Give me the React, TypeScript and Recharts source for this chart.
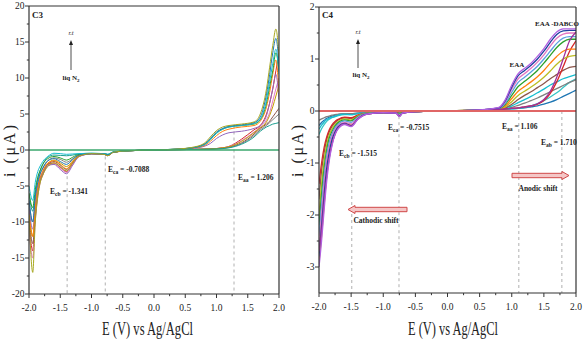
import React from 'react';
import { LineChart, Line, XAxis, YAxis, ReferenceLine } from 'recharts';

const FONT = '"Liberation Serif", "Times New Roman", Times, serif';

// ---------------- Panel C3 ----------------
const C3_E = [-2.0, -1.94, -1.9, -1.86, -1.82, -1.78, -1.7, -1.6, -1.5, -1.4, -1.3, -1.2, -1.0, -0.8, -0.74, -0.65, -0.4, 0.0,
  0.4, 0.6, 0.8, 0.9, 1.0, 1.1, 1.2, 1.4, 1.6, 1.7, 1.8, 1.85, 1.9, 1.95, 2.0];

const C3_A1 = [-9, -17, -10, -6.5, -4.5, -3.5, -2.3, -1.8, -2.3, -2.9, -1.8, -0.85, -0.5, -0.6, -0.8, -0.3, -0.1, 0,
  0.15, 0.35, 0.9, 1.8, 2.7, 3.2, 3.4, 3.6, 3.9, 5.0, 8.5, 11.5, 14.5, 16.8, 13.0];
const C3_A2 = [-7, -10, -6.5, -4.5, -3.2, -2.5, -1.5, -1.2, -1.6, -2.0, -1.3, -0.7, -0.5, -0.55, -0.7, -0.3, -0.1, 0,
  0.15, 0.3, 0.8, 1.6, 2.5, 3.0, 3.3, 3.5, 3.8, 4.6, 7.8, 10.5, 13.5, 15.5, 12.0];
const C3_A3 = [-5, -7, -4.5, -3.0, -2.2, -1.6, -0.9, -0.45, -0.5, -0.6, -0.55, -0.5, -0.45, -0.5, -0.6, -0.25, -0.1, 0,
  0.15, 0.3, 0.7, 1.4, 2.3, 2.9, 3.2, 3.4, 3.7, 4.3, 7.0, 9.5, 12.0, 14.0, 10.5];
const C3_A4 = [-9, -12, -8, -5.2, -3.8, -3.0, -1.8, -1.5, -2.0, -2.6, -1.6, -0.8, -0.5, -0.6, -0.75, -0.3, -0.1, 0,
  0.12, 0.25, 0.6, 1.2, 2.0, 2.6, 2.9, 3.2, 3.4, 4.0, 6.0, 8.0, 10.5, 12.5, 8.0];
const C3_A5 = [-8, -11, -8, -5.5, -4, -3.2, -2.2, -2.0, -2.7, -3.3, -2.1, -0.9, -0.55, -0.6, -0.8, -0.3, -0.1, 0,
  0.1, 0.2, 0.5, 0.9, 1.6, 2.1, 2.4, 2.6, 3.0, 3.4, 4.8, 6.5, 8.5, 10.5, 7.0];
const C3_A6 = [-6, -8, -5.5, -3.8, -2.8, -2.0, -1.2, -0.9, -1.1, -1.4, -1.0, -0.6, -0.5, -0.5, -0.65, -0.3, -0.1, 0,
  0.12, 0.28, 0.75, 1.5, 2.4, 2.9, 3.2, 3.4, 3.6, 4.2, 6.5, 8.8, 11.0, 13.5, 11.0];
const C3_B1 = [-10, -14, -9, -6, -4.2, -3.2, -2.0, -1.8, -2.4, -3.0, -1.9, -0.9, -0.5, -0.55, -0.7, -0.3, -0.1, 0,
  0.05, 0.08, 0.12, 0.15, 0.2, 0.3, 0.5, 1.5, 2.8, 3.4, 5.0, 6.5, 8.5, 11.0, 13.5];
const C3_B2 = [-6, -8.5, -6, -4, -2.8, -2.0, -1.0, -0.7, -0.75, -0.8, -0.7, -0.55, -0.45, -0.5, -0.6, -0.25, -0.1, 0,
  0.05, 0.08, 0.1, 0.12, 0.15, 0.2, 0.3, 0.8, 1.8, 2.6, 3.2, 3.4, 3.6, 3.7, 3.8];
const C3_B3 = [-11, -15, -10, -6.5, -4.5, -3.5, -2.2, -1.9, -2.5, -3.1, -2.0, -0.9, -0.55, -0.6, -0.8, -0.3, -0.1, 0,
  0.05, 0.08, 0.12, 0.15, 0.2, 0.3, 0.5, 1.3, 2.5, 3.2, 4.2, 5.2, 6.8, 8.5, 10.0];
const C3_B4 = [-9, -13, -9.5, -6, -4.3, -3.4, -2.0, -1.6, -2.1, -2.7, -1.7, -0.8, -0.5, -0.6, -0.75, -0.3, -0.1, 0,
  0.05, 0.08, 0.1, 0.13, 0.18, 0.25, 0.4, 1.0, 2.2, 3.0, 3.6, 4.0, 4.6, 5.2, 5.8];
const C3_B5 = [-7, -10, -7, -4.8, -3.4, -2.6, -1.5, -1.1, -1.3, -1.7, -1.2, -0.7, -0.5, -0.5, -0.65, -0.3, -0.1, 0,
  0.05, 0.07, 0.1, 0.12, 0.15, 0.2, 0.35, 0.9, 2.0, 2.8, 3.4, 3.8, 4.2, 4.6, 5.0];
const C3_B6 = [-8, -12, -8.5, -5.5, -4.0, -3.0, -1.9, -1.4, -1.8, -2.3, -1.5, -0.75, -0.5, -0.55, -0.7, -0.3, -0.1, 0,
  0.05, 0.08, 0.12, 0.15, 0.2, 0.3, 0.45, 1.2, 2.4, 3.1, 3.9, 4.8, 6.0, 7.5, 9.0];

const C3_CURVES = [C3_B1, C3_B3, C3_B4, C3_B5, C3_B6, C3_B2, C3_A5, C3_A4, C3_A6, C3_A3, C3_A2, C3_A1];
const C3_COLORS = ['#d62728', '#e377c2', '#8c564b', '#7f7f7f', '#c49a00', '#1a9e8f', '#9467bd', '#ff7f0e', '#2ca02c', '#17becf', '#1f77b4', '#a8a820'];

// ---------------- Panel C4 ----------------
const C4_E = [-2.0, -1.96, -1.92, -1.88, -1.84, -1.8, -1.75, -1.7, -1.6, -1.5, -1.4, -1.3, -1.2, -1.0, -0.8, -0.75, -0.7, -0.5,
  0.0, 0.5, 0.8, 0.9, 1.0, 1.1, 1.2, 1.3, 1.4, 1.5, 1.6, 1.7, 1.8, 1.9, 2.0];

const C4_R1 = [-3.0, -2.5, -1.9, -1.35, -0.95, -0.68, -0.45, -0.34, -0.26, -0.3, -0.17, -0.08, -0.05, -0.03, -0.04, -0.11, -0.04, -0.01,
  0, 0.02, 0.07, 0.22, 0.5, 0.72, 0.82, 0.92, 1.05, 1.2, 1.38, 1.52, 1.58, 1.58, 1.58];
const C4_R2 = [-2.8, -2.2, -1.6, -1.1, -0.78, -0.56, -0.4, -0.3, -0.24, -0.28, -0.16, -0.07, -0.05, -0.03, -0.04, -0.1, -0.04, -0.01,
  0, 0.02, 0.06, 0.2, 0.46, 0.68, 0.78, 0.88, 1.0, 1.15, 1.32, 1.47, 1.54, 1.55, 1.55];
const C4_R3 = [-2.6, -2.0, -1.4, -0.95, -0.68, -0.5, -0.36, -0.28, -0.22, -0.25, -0.14, -0.07, -0.05, -0.03, -0.04, -0.08, -0.04, -0.01,
  0, 0.02, 0.06, 0.18, 0.42, 0.62, 0.72, 0.82, 0.94, 1.08, 1.25, 1.4, 1.48, 1.5, 1.5];
const C4_R4 = [-2.4, -1.8, -1.25, -0.85, -0.6, -0.45, -0.32, -0.25, -0.19, -0.22, -0.12, -0.06, -0.04, -0.03, -0.04, -0.07, -0.04, -0.01,
  0, 0.02, 0.05, 0.15, 0.36, 0.55, 0.65, 0.75, 0.86, 1.0, 1.15, 1.3, 1.4, 1.43, 1.43];
const C4_R5 = [-2.2, -1.6, -1.1, -0.75, -0.52, -0.4, -0.29, -0.22, -0.17, -0.19, -0.11, -0.06, -0.04, -0.03, -0.04, -0.06, -0.03, -0.01,
  0, 0.02, 0.05, 0.13, 0.3, 0.47, 0.57, 0.67, 0.78, 0.92, 1.07, 1.22, 1.33, 1.38, 1.38];
const C4_R6 = [-2.9, -2.4, -1.8, -1.25, -0.88, -0.62, -0.43, -0.32, -0.24, -0.27, -0.15, -0.07, -0.05, -0.03, -0.04, -0.09, -0.04, -0.01,
  0, 0.02, 0.04, 0.1, 0.24, 0.38, 0.47, 0.56, 0.66, 0.78, 0.92, 1.05, 1.15, 1.19, 1.19];
const C4_R7 = [-2.0, -1.4, -0.95, -0.65, -0.46, -0.35, -0.26, -0.2, -0.15, -0.17, -0.1, -0.05, -0.04, -0.03, -0.04, -0.05, -0.03, -0.01,
  0, 0.02, 0.04, 0.08, 0.18, 0.3, 0.38, 0.46, 0.55, 0.65, 0.77, 0.9, 1.0, 1.05, 1.07];
const C4_R8 = [-1.7, -1.15, -0.8, -0.55, -0.4, -0.3, -0.22, -0.17, -0.13, -0.14, -0.09, -0.05, -0.04, -0.03, -0.03, -0.05, -0.03, -0.01,
  0, 0.02, 0.03, 0.06, 0.13, 0.22, 0.3, 0.37, 0.45, 0.53, 0.62, 0.7, 0.78, 0.84, 0.86];
const C4_R9 = [-0.35, -0.27, -0.21, -0.17, -0.14, -0.12, -0.1, -0.08, -0.06, -0.07, -0.05, -0.04, -0.03, -0.02, -0.03, -0.04, -0.02, -0.01,
  0, 0.02, 0.03, 0.05, 0.1, 0.16, 0.22, 0.28, 0.35, 0.42, 0.5, 0.56, 0.62, 0.66, 0.7];
const C4_R10 = [-0.18, -0.15, -0.13, -0.11, -0.1, -0.08, -0.07, -0.06, -0.05, -0.05, -0.04, -0.03, -0.03, -0.02, -0.02, -0.03, -0.02, -0.01,
  0, 0.01, 0.03, 0.04, 0.07, 0.11, 0.15, 0.2, 0.25, 0.31, 0.37, 0.43, 0.49, 0.55, 0.6];
const C4_R11 = [-2.7, -2.3, -1.75, -1.25, -0.9, -0.65, -0.45, -0.33, -0.25, -0.29, -0.16, -0.08, -0.05, -0.03, -0.04, -0.1, -0.04, -0.01,
  0, 0.01, 0.03, 0.04, 0.05, 0.06, 0.08, 0.1, 0.14, 0.22, 0.38, 0.65, 1.0, 1.35, 1.52];
const C4_R12 = [-1.4, -1.0, -0.7, -0.5, -0.36, -0.27, -0.2, -0.16, -0.12, -0.13, -0.08, -0.05, -0.04, -0.03, -0.03, -0.05, -0.03, -0.01,
  0, 0.01, 0.03, 0.04, 0.05, 0.06, 0.08, 0.1, 0.13, 0.2, 0.34, 0.56, 0.85, 1.15, 1.35];
const C4_R13 = [-0.28, -0.22, -0.18, -0.14, -0.12, -0.1, -0.08, -0.07, -0.05, -0.05, -0.04, -0.03, -0.03, -0.02, -0.02, -0.03, -0.02, -0.01,
  0, 0.01, 0.02, 0.03, 0.04, 0.05, 0.06, 0.08, 0.1, 0.13, 0.17, 0.22, 0.28, 0.34, 0.4];
const C4_R14 = [-0.45, -0.34, -0.26, -0.2, -0.16, -0.13, -0.11, -0.09, -0.07, -0.07, -0.05, -0.04, -0.03, -0.02, -0.03, -0.04, -0.02, -0.01,
  0, 0.01, 0.02, 0.03, 0.04, 0.05, 0.07, 0.1, 0.14, 0.2, 0.27, 0.35, 0.45, 0.55, 0.62];

const C4_CURVES = [C4_R13, C4_R14, C4_R10, C4_R9, C4_R8, C4_R12, C4_R7, C4_R6, C4_R5, C4_R4, C4_R3, C4_R2, C4_R11, C4_R1];
const C4_COLORS = ['#1f77b4', '#36c5c5', '#7f7f7f', '#17becf', '#8c564b', '#d62728', '#bcbd22', '#ff7f0e', '#2ca02c', '#5aa0e0', '#e377c2', '#1f3fa0', '#a0309a', '#b060e0'];

// ---------------- Axis ticks ----------------
const X_MAJOR = [-2.0, -1.5, -1.0, -0.5, 0.0, 0.5, 1.0, 1.5, 2.0];
const X_MINOR = [-1.75, -1.25, -0.75, -0.25, 0.25, 0.75, 1.25, 1.75];
const C3_Y_MAJOR = [-20, -15, -10, -5, 0, 5, 10, 15, 20];
const C3_Y_MINOR = [-17.5, -12.5, -7.5, -2.5, 2.5, 7.5, 12.5, 17.5];
const C4_Y_MAJOR = [-3, -2, -1, 0, 1, 2];
const C4_Y_MINOR = [-2.5, -1.5, -0.5, 0.5, 1.5];

const isIn = (arr: number[], v: number) => arr.some((m) => Math.abs(m - v) < 1e-6);
const sorted = (a: number[], b: number[]) => [...a, ...b].sort((p, q) => p - q);

const makeXTick = (majors: number[]) => (props: any) => {
  const { x, y, payload } = props;
  const v = payload.value;
  const major = isIn(majors, v);
  return (
    <g>
      <line x1={x} x2={x} y1={y} y2={y + (major ? 4 : 2.2)} stroke="#333" strokeWidth={1} />
      {major && (
        <text x={x} y={y + 17} textAnchor="middle" fontFamily={FONT} fontSize={9.5} fill="#222">
          {v.toFixed(1)}
        </text>
      )}
    </g>
  );
};

const makeYTick = (majors: number[]) => (props: any) => {
  const { x, y, payload } = props;
  const v = payload.value;
  const major = isIn(majors, v);
  return (
    <g>
      <line x1={x - (major ? 4 : 2.2)} x2={x} y1={y} y2={y} stroke="#333" strokeWidth={1} />
      {major && (
        <text x={x - 4.5} y={y + 3.2} textAnchor="end" fontFamily={FONT} fontSize={9.5} fill="#222">
          {String(v)}
        </text>
      )}
    </g>
  );
};

const pts = (xs: number[], ys: number[]) => xs.map((x, i) => ({ x, y: ys[i] }));

const DASH = { stroke: '#b0b0b0', strokeDasharray: '3 3', strokeWidth: 1 };

function PanelC3() {
  return (
    <LineChart width={290} height={341} margin={{ top: 6, right: 11, bottom: 0, left: 0 }}>
      <XAxis type="number" dataKey="x" domain={[-2, 2]} allowDataOverflow ticks={sorted(X_MAJOR, X_MINOR)} interval={0}
        tickLine={false} tickSize={0} tickMargin={0} tick={makeXTick(X_MAJOR)} axisLine={{ stroke: '#333', strokeWidth: 1.2 }} height={47} />
      <YAxis type="number" domain={[-20, 20]} allowDataOverflow ticks={sorted(C3_Y_MAJOR, C3_Y_MINOR)} interval={0}
        tickLine={false} tickSize={0} tickMargin={0} tick={makeYTick(C3_Y_MAJOR)} axisLine={{ stroke: '#333', strokeWidth: 1.2 }} width={29} />
      <ReferenceLine segment={[{ x: -1.39, y: -2.8 }, { x: -1.39, y: -20 }]} {...DASH} />
      <ReferenceLine segment={[{ x: -0.78, y: -0.9 }, { x: -0.78, y: -20 }]} {...DASH} />
      <ReferenceLine segment={[{ x: 1.28, y: 3.4 }, { x: 1.28, y: -20 }]} {...DASH} />
      {C3_CURVES.map((c, i) => (
        <Line key={i} data={pts(C3_E, c)} dataKey="y" type="monotone" stroke={C3_COLORS[i]} strokeWidth={1}
          dot={false} isAnimationActive={false} />
      ))}
      <ReferenceLine y={0} stroke="#3aa76d" strokeWidth={1.5} />
      <ReferenceLine y={20} stroke="#333" strokeWidth={1.2} />
      <ReferenceLine x={2} stroke="#333" strokeWidth={1.2} />
    </LineChart>
  );
}

function PanelC4() {
  return (
    <LineChart width={293} height={341} margin={{ top: 7, right: 7, bottom: 0, left: 0 }}>
      <XAxis type="number" dataKey="x" domain={[-2, 2]} allowDataOverflow ticks={sorted(X_MAJOR, X_MINOR)} interval={0}
        tickLine={false} tickSize={0} tickMargin={0} tick={makeXTick(X_MAJOR)} axisLine={{ stroke: '#333', strokeWidth: 1.2 }} height={48} />
      <YAxis type="number" domain={[-3.5, 2]} allowDataOverflow ticks={sorted(C4_Y_MAJOR, C4_Y_MINOR)} interval={0}
        tickLine={false} tickSize={0} tickMargin={0} tick={makeYTick(C4_Y_MAJOR)} axisLine={{ stroke: '#333', strokeWidth: 1.2 }} width={29} />
      <ReferenceLine segment={[{ x: -1.49, y: -0.25 }, { x: -1.49, y: -3.5 }]} {...DASH} />
      <ReferenceLine segment={[{ x: -0.755, y: -0.1 }, { x: -0.755, y: -3.5 }]} {...DASH} />
      <ReferenceLine segment={[{ x: 1.11, y: 0 }, { x: 1.11, y: -3.5 }]} {...DASH} />
      <ReferenceLine segment={[{ x: 1.78, y: 0 }, { x: 1.78, y: -3.5 }]} {...DASH} />
      {C4_CURVES.map((c, i) => (
        <Line key={i} data={pts(C4_E, c)} dataKey="y" type="monotone" stroke={C4_COLORS[i]} strokeWidth={1.3}
          dot={false} isAnimationActive={false} />
      ))}
      <ReferenceLine y={0} stroke="#e06666" strokeWidth={2} />
      <ReferenceLine y={2} stroke="#333" strokeWidth={1.2} />
      <ReferenceLine x={2} stroke="#333" strokeWidth={1.2} />
    </LineChart>
  );
}

const T = { fontFamily: FONT, fill: '#222' };

const ELabel = ({ x, y, sub, val }: { x: number; y: number; sub: string; val: string }) => (
  <text x={x} y={y} {...T} fontWeight="bold" fontSize={7.5}>
    E<tspan fontSize={5.5} dy={2}>{sub}</tspan>
    <tspan dy={-2}>{'  = ' + val}</tspan>
  </text>
);

const UpArrow = ({ x, y1, y2 }: { x: number; y1: number; y2: number }) => (
  <g>
    <line x1={x} x2={x} y1={y2} y2={y1 + 4} stroke="#222" strokeWidth={0.8} />
    <polygon points={`${x},${y1} ${x - 2},${y1 + 5} ${x + 2},${y1 + 5}`} fill="#222" />
  </g>
);

const Liq = ({ x, y }: { x: number; y: number }) => (
  <text x={x} y={y} {...T} fontSize={7} textAnchor="middle" fontWeight="bold">
    liq N<tspan fontSize={5} dy={2}>2</tspan>
  </text>
);

const BlockArrow = ({ x1, x2, y, dir }: { x1: number; x2: number; y: number; dir: 'left' | 'right' }) => {
  const h = 2.2;
  const hh = 4;
  const hl = 7;
  const p =
    dir === 'left'
      ? `M${x1},${y} L${x1 + hl},${y - hh} L${x1 + hl},${y - h} L${x2},${y - h} L${x2},${y + h} L${x1 + hl},${y + h} L${x1 + hl},${y + hh} Z`
      : `M${x2},${y} L${x2 - hl},${y - hh} L${x2 - hl},${y - h} L${x1},${y - h} L${x1},${y + h} L${x2 - hl},${y + h} L${x2 - hl},${y + hh} Z`;
  return <path d={p} fill="#f4c6c6" stroke="#d04848" strokeWidth={1} />;
};

function Overlay() {
  return (
    <svg width={583} height={341} style={{ position: 'absolute', left: 0, top: 0, pointerEvents: 'none' }}>
      {/* axis titles */}
      <text transform="translate(15,151) rotate(-90)" textAnchor="middle" {...T} fontSize={16} textLength={52} lengthAdjust="spacing">i (μA)</text>
      <text transform="translate(303,151) rotate(-90)" textAnchor="middle" {...T} fontSize={16} textLength={52} lengthAdjust="spacing">i (μA)</text>
      <text x={102} y={335} {...T} fontSize={19} textLength={91} lengthAdjust="spacingAndGlyphs">E (V) vs Ag/AgCl</text>
      <text x={408} y={335} {...T} fontSize={19} textLength={90} lengthAdjust="spacingAndGlyphs">E (V) vs Ag/AgCl</text>

      {/* C3 annotations */}
      <text x={32} y={18} {...T} fontWeight="bold" fontSize={9}>C3</text>
      <text x={71} y={35} {...T} fontStyle="italic" fontSize={6.5} textAnchor="middle">r.t</text>
      <UpArrow x={71} y1={40} y2={70} />
      <Liq x={71} y={80} />
      <ELabel x={50} y={194} sub="cb" val="-1.341" />
      <ELabel x={108} y={172} sub="ca" val="-0.7088" />
      <ELabel x={238} y={180} sub="aa" val="1.206" />

      {/* C4 annotations */}
      <text x={322} y={18} {...T} fontWeight="bold" fontSize={9}>C4</text>
      <text x={358} y={34} {...T} fontStyle="italic" fontSize={6.5} textAnchor="middle">r.t</text>
      <UpArrow x={358} y1={39} y2={68} />
      <Liq x={361} y={77} />
      <text x={557} y={26} {...T} fontWeight="bold" fontSize={7} textAnchor="middle">EAA -DABCO</text>
      <text x={517} y={67} {...T} fontWeight="bold" fontSize={7} textAnchor="middle">EAA</text>
      <ELabel x={388} y={130} sub="ca" val="-0.7515" />
      <ELabel x={339} y={156} sub="cb" val="-1.515" />
      <ELabel x={502} y={129} sub="aa" val="1.106" />
      <ELabel x={541} y={145} sub="ab" val="1.710" />
      <BlockArrow x1={348} x2={407} y={209.5} dir="left" />
      <text x={376} y={223} {...T} fontWeight="bold" fontSize={7.5} textAnchor="middle">Cathodic shift</text>
      <BlockArrow x1={512} x2={569} y={175.5} dir="right" />
      <text x={538} y={191} {...T} fontWeight="bold" fontSize={7.5} textAnchor="middle">Anodic shift</text>
    </svg>
  );
}

export default function App() {
  return (
    <div style={{ position: 'absolute', left: 0, top: 0, width: 583, height: 341, background: '#fff' }}>
      <div style={{ position: 'absolute', left: 0, top: 0 }}>
        <PanelC3 />
      </div>
      <div style={{ position: 'absolute', left: 290, top: 0 }}>
        <PanelC4 />
      </div>
      <Overlay />
    </div>
  );
}
